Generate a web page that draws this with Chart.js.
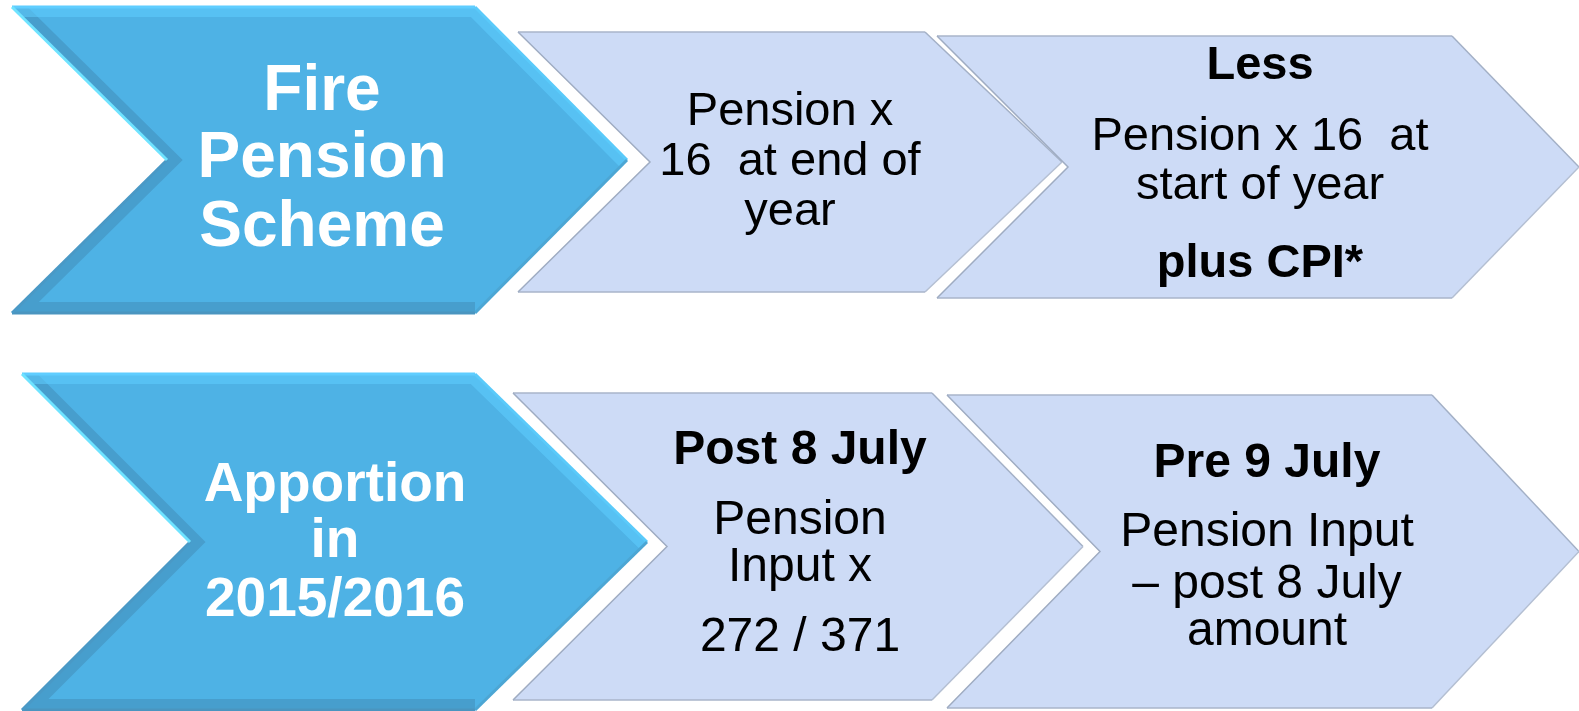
<!DOCTYPE html>
<html>
<head>
<meta charset="utf-8">
<script src="https://cdn.jsdelivr.net/npm/chart.js@4.4.1/dist/chart.umd.min.js"></script>
<style>
  html, body { margin: 0; padding: 0; background: #ffffff; }
  #wrap { width: 1579px; height: 711px; }
</style>
</head>
<body>
<div id="wrap"><canvas id="c" width="1579" height="711"></canvas></div>
<script>
// ---- Diagram content (each chevron: outline extents) ----
const chevronNames  = ["Fire Pension Scheme", "End of year", "Start of year", "Apportion", "Post 8 July", "Pre 9 July"];
const chevronKind   = ["main", "step", "step", "main", "step", "step"];
const chevronLeft   = [12, 518, 937, 22, 513, 947];
const chevronTop    = [7, 32, 36, 374, 393, 395];
const chevronBottom = [313, 292, 298, 710, 700, 708];
const chevronCorner = [475, 925, 1452, 475, 932, 1432];
const chevronTip    = [627, 1062, 1579, 647, 1083, 1579];
const chevronNotch  = [167, 650, 1068, 190, 667, 1100];

// ---- Text lines per chevron: [text, bold] ----
const textLines = [
  [["Fire", true], ["Pension", true], ["Scheme", true]],
  [["Pension x", false], ["16  at end of", false], ["year", false]],
  [["Less", true], ["Pension x 16  at", false], ["start of year", false], ["plus CPI*", true]],
  [["Apportion", true], ["in", true], ["2015/2016", true]],
  [["Post 8 July", true], ["Pension", false], ["Input x", false], ["272 / 371", false]],
  [["Pre 9 July", true], ["Pension Input", false], ["\u2013 post 8 July", false], ["amount", false]]
];
const textCenterX = [322, 790, 1260, 335, 800, 1267];
const textLineY = [
  [92, 159, 228],
  [112, 162, 212],
  [66, 137, 186, 264],
  [486, 542, 601],
  [451, 521, 568, 638],
  [464, 533, 585, 632]
];
const textSize = [64, 47, 47, 55, 48, 48];
const textColor = ["#ffffff", "#000000", "#000000", "#ffffff", "#000000", "#000000"];

// ---- Build polygons ----
function outline(i) {
  const midY = (chevronTop[i] + chevronBottom[i]) / 2;
  return [
    {x: chevronLeft[i],   y: chevronTop[i]},
    {x: chevronCorner[i], y: chevronTop[i]},
    {x: chevronTip[i],    y: midY},
    {x: chevronCorner[i], y: chevronBottom[i]},
    {x: chevronLeft[i],   y: chevronBottom[i]},
    {x: chevronNotch[i],  y: midY},
    {x: chevronLeft[i],   y: chevronTop[i]}
  ];
}
const mainEdge = ["#5FCDFF", "#5ACAFA", "#4CA6D4", "#4A95C0", "#4A99C6", "#6FE3FF"];
const stepEdge = ["#A9B5CA", "#A3B0C6", "#B4BFD2", "#A9B5CA", "#9FACC2", "#9FACC2"];

const order = [1, 2, 4, 5, 0, 3];
const datasets = order.map(i => {
  const isMain = chevronKind[i] === "main";
  const edges = isMain ? mainEdge : stepEdge;
  return {
    label: chevronNames[i],
    type: "line",
    data: outline(i),
    fill: false,
    backgroundColor: isMain ? "#4EB2E5" : "#CDDBF6",
    borderColor: edges[0],
    borderWidth: isMain ? 3 : 1.5,
    segment: { borderColor: ctx => edges[ctx.p0DataIndex] },
    pointRadius: 0,
    pointHoverRadius: 0,
    tension: 0,
    clip: false
  };
});

// Fill each polygon using the pixel positions computed by the chart's scales
const polygonFill = {
  id: "polygonFill",
  beforeDatasetDraw(chart, args) {
    const pts = args.meta.data;
    const ds = chart.data.datasets[args.index];
    if (!pts.length) return;
    const ctx = chart.ctx;
    ctx.save();
    ctx.beginPath();
    pts.forEach((p, k) => (k ? ctx.lineTo(p.x, p.y) : ctx.moveTo(p.x, p.y)));
    ctx.closePath();
    ctx.fillStyle = ds.backgroundColor;
    ctx.fill();
    if (ds.backgroundColor === "#4EB2E5") {
      // soft bevel: darker band inside the left edges, lighter band under the top
      ctx.clip();
      ctx.lineJoin = "miter";
      ctx.beginPath();
      ctx.moveTo(pts[0].x, pts[0].y);
      ctx.lineTo(pts[5].x, pts[5].y);
      ctx.lineTo(pts[4].x, pts[4].y);
      ctx.lineTo(pts[3].x, pts[3].y);
      ctx.strokeStyle = "rgba(60,120,160,0.35)";
      ctx.lineWidth = 22;
      ctx.stroke();
      ctx.beginPath();
      ctx.moveTo(pts[0].x, pts[0].y);
      ctx.lineTo(pts[1].x, pts[1].y);
      ctx.lineTo(pts[2].x, pts[2].y);
      ctx.strokeStyle = "rgba(95,205,255,0.55)";
      ctx.lineWidth = 20;
      ctx.stroke();
    }
    ctx.restore();
  }
};

const textPlugin = {
  id: "chevronText",
  afterDatasetsDraw(chart) {
    const ctx = chart.ctx;
    const xs = chart.scales.x, ys = chart.scales.y;
    ctx.save();
    ctx.textAlign = "center";
    ctx.textBaseline = "middle";
    textLines.forEach((lines, i) => {
      const cx = xs.getPixelForValue(textCenterX[i]);
      lines.forEach((ln, j) => {
        ctx.font = (ln[1] ? "bold " : "") + textSize[i] + "px 'Liberation Sans', Arial, sans-serif";
        ctx.fillStyle = textColor[i];
        ctx.fillText(ln[0], cx, ys.getPixelForValue(textLineY[i][j]));
      });
    });
    ctx.restore();
  }
};

new Chart(document.getElementById("c"), {
  type: "line",
  data: { datasets },
  options: {
    responsive: false,
    animation: false,
    events: [],
    layout: { padding: 0 },
    scales: {
      x: { type: "linear", min: 0, max: 1579, display: false },
      y: { type: "linear", min: 0, max: 711, reverse: true, display: false }
    },
    plugins: { legend: { display: false }, tooltip: { enabled: false } }
  },
  plugins: [polygonFill, textPlugin]
});
</script>
</body>
</html>
